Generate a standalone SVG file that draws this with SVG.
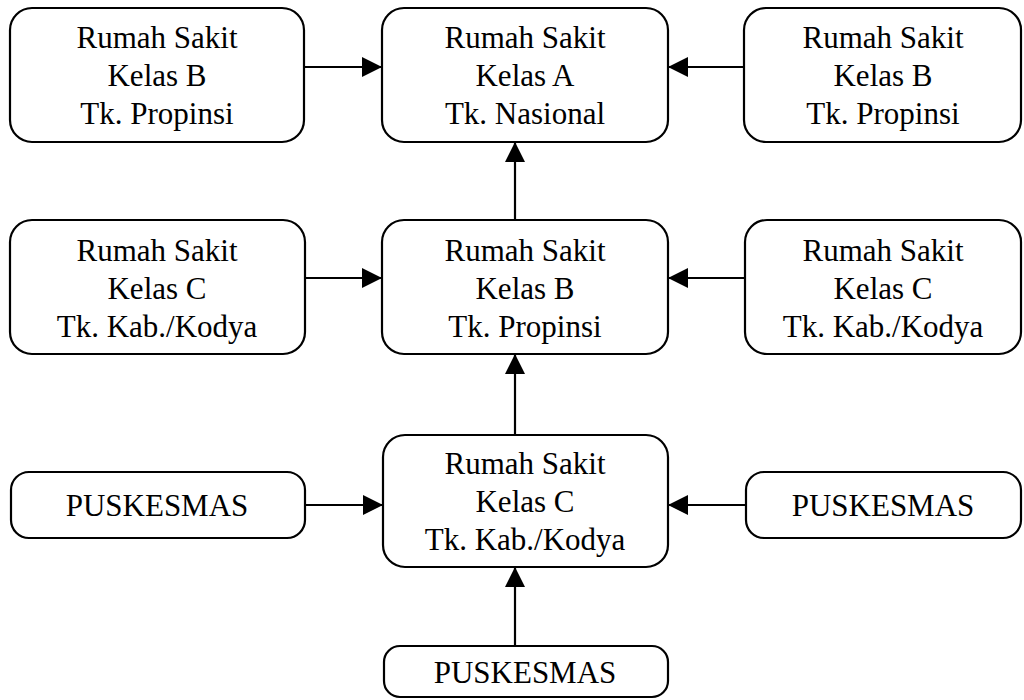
<svg xmlns="http://www.w3.org/2000/svg" width="1024" height="700" viewBox="0 0 1024 700">
  <style>
    .box { fill: #ffffff; stroke: #000000; stroke-width: 2.2; }
    .lbl { font-family: "Liberation Serif", "Times New Roman", serif; font-size: 31px; fill: #000000; text-anchor: middle; }
    .edge { fill: none; stroke: #000000; stroke-width: 2.2; marker-end: url(#head); }
  </style>
  <defs>
    <marker id="head" markerUnits="userSpaceOnUse" markerWidth="22" markerHeight="22" refX="20" refY="10" orient="auto">
      <path d="M0,0 L20,10 L0,20 Z" fill="#000000"/>
    </marker>
  </defs>
  <rect width="1024" height="700" fill="#ffffff"/>

  <!-- connectors -->
  <g id="connectors">
    <line class="edge" x1="304" y1="67" x2="382" y2="67"/>
    <line class="edge" x1="744" y1="67" x2="668" y2="67"/>
    <line class="edge" x1="515" y1="220" x2="515" y2="142"/>
    <line class="edge" x1="305" y1="278" x2="382" y2="278"/>
    <line class="edge" x1="745" y1="278" x2="668" y2="278"/>
    <line class="edge" x1="515" y1="435" x2="515" y2="354"/>
    <line class="edge" x1="305" y1="505" x2="383" y2="505"/>
    <line class="edge" x1="746" y1="505" x2="668" y2="505"/>
    <line class="edge" x1="515" y1="646" x2="515" y2="567"/>
  </g>

  <!-- top row -->
  <g id="rs-b-left-top">
    <rect class="box" x="10" y="8" width="294" height="134" rx="22"/>
    <text class="lbl" x="157" y="48">Rumah Sakit</text>
    <text class="lbl" x="157" y="86">Kelas B</text>
    <text class="lbl" x="157" y="124">Tk. Propinsi</text>
  </g>
  <g id="rs-a">
    <rect class="box" x="382" y="8" width="286" height="134" rx="22"/>
    <text class="lbl" x="525" y="48">Rumah Sakit</text>
    <text class="lbl" x="525" y="86">Kelas A</text>
    <text class="lbl" x="525" y="124">Tk. Nasional</text>
  </g>
  <g id="rs-b-right-top">
    <rect class="box" x="744" y="8" width="277" height="134" rx="22"/>
    <text class="lbl" x="883" y="48">Rumah Sakit</text>
    <text class="lbl" x="883" y="86">Kelas B</text>
    <text class="lbl" x="883" y="124">Tk. Propinsi</text>
  </g>

  <!-- middle row -->
  <g id="rs-c-left-mid">
    <rect class="box" x="10" y="220" width="295" height="134" rx="22"/>
    <text class="lbl" x="157" y="261">Rumah Sakit</text>
    <text class="lbl" x="157" y="299">Kelas C</text>
    <text class="lbl" x="157" y="337">Tk. Kab./Kodya</text>
  </g>
  <g id="rs-b-mid">
    <rect class="box" x="382" y="220" width="286" height="134" rx="22"/>
    <text class="lbl" x="525" y="261">Rumah Sakit</text>
    <text class="lbl" x="525" y="299">Kelas B</text>
    <text class="lbl" x="525" y="337">Tk. Propinsi</text>
  </g>
  <g id="rs-c-right-mid">
    <rect class="box" x="745" y="220" width="276" height="134" rx="22"/>
    <text class="lbl" x="883" y="261">Rumah Sakit</text>
    <text class="lbl" x="883" y="299">Kelas C</text>
    <text class="lbl" x="883" y="337">Tk. Kab./Kodya</text>
  </g>

  <!-- bottom row -->
  <g id="puskesmas-left">
    <rect class="box" x="11" y="472" width="294" height="66" rx="18"/>
    <text class="lbl" x="157" y="516">PUSKESMAS</text>
  </g>
  <g id="rs-c-bottom">
    <rect class="box" x="383" y="435" width="285" height="132" rx="22"/>
    <text class="lbl" x="525" y="474">Rumah Sakit</text>
    <text class="lbl" x="525" y="512">Kelas C</text>
    <text class="lbl" x="525" y="550">Tk. Kab./Kodya</text>
  </g>
  <g id="puskesmas-right">
    <rect class="box" x="746" y="472" width="275" height="66" rx="18"/>
    <text class="lbl" x="883" y="516">PUSKESMAS</text>
  </g>
  <g id="puskesmas-below">
    <rect class="box" x="384" y="646" width="284" height="51" rx="16"/>
    <text class="lbl" x="525" y="683">PUSKESMAS</text>
  </g>
</svg>
